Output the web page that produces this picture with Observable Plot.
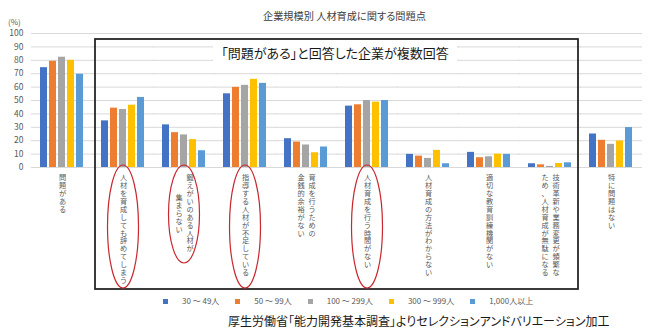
<!DOCTYPE html>
<html><head><meta charset="utf-8">
<script src="https://cdn.jsdelivr.net/npm/d3@7"></script>
<script src="https://cdn.jsdelivr.net/npm/@observablehq/plot@0.6"></script>
<style>
body{margin:0;background:#fff;font-family:"Noto Sans CJK JP","Noto Sans",sans-serif;}
#wrap{position:relative;width:650px;height:336px;overflow:hidden;background:#fff}
#wrap svg{position:absolute;left:0;top:0}
.ov{position:absolute;white-space:nowrap;line-height:1;font-feature-settings:"palt" 1}
#legend{display:flex;align-items:center;font-size:8px;color:#595959;font-feature-settings:normal}
#legend .sw{display:inline-block;width:5px;height:5px;margin-right:14px}
#legend .lb{margin-right:16px}
</style></head><body><div id="wrap"></div>
<script>
const title = "企業規模別 人材育成に関する問題点";
const unitLabel = "(%)";
const insetLabel = "「問題がある」と回答した企業が複数回答";
const caption = "厚生労働省「能力開発基本調査」よりセレクションアンドバリエーション加工";
const categories = ["問題がある","人材を育成しても辞めてしまう","鍛えがいのある人材が集まらない","指導する人材が不足している","育成を行うための金銭的余裕がない","人材育成を行う時間がない","人材育成の方法がわからない","適切な教育訓練機関がない","技術革新や業務変更が頻繁なため、人材育成が無駄になる","特に問題はない"];
const categoryLines = [["問題がある"],["人材を育成しても辞めてしまう"],["鍛えがいのある人材が","集まらない"],["指導する人材が不足している"],["育成を行うための","金銭的余裕がない"],["人材育成を行う時間がない"],["人材育成の方法がわからない"],["適切な教育訓練機関がない"],["技術革新や業務変更が頻繁な","ため、人材育成が無駄になる"],["特に問題はない"]];
const sizes = ["30 ～ 49人","50 ～ 99人","100 ～ 299人","300 ～ 999人","1,000人以上"];
const colors = ["#4472C4","#ED7D31","#A5A5A5","#FFC000","#5B9BD5"];
const s30_49   = [74.5,34.8,31.8,55.0,21.5,45.8, 9.8,11.3,2.8,25.0];
const s50_99   = [79.3,44.3,26.0,59.8,19.0,46.8, 8.5, 7.3,2.0,20.3];
const s100_299 = [82.3,43.3,24.3,61.3,16.8,50.0, 6.8, 8.0,0.8,17.3];
const s300_999 = [80.0,46.5,20.8,65.8,11.0,48.8,12.8,10.0,3.0,19.8];
const s1000    = [69.6,52.3,12.5,62.8,15.3,50.0, 2.8, 9.8,3.5,29.8];
const yTicks = [0,10,20,30,40,50,60,70,80,90,100];
const highlighted = [categories[1],categories[2],categories[3],categories[5]];
const boxedFrom = categories[1], boxedTo = categories[8];

const series = [s30_49,s50_99,s100_299,s300_999,s1000];
const rows = [];
categories.forEach((c,i)=>series.forEach((s,j)=>rows.push({cat:c,size:sizes[j],value:s[i]})));

const FONT = '"Noto Sans CJK JP","Noto Sans",sans-serif';
const FS = 7.2, LHEM = 1.1, LH = FS*LHEM;
const labelMarks = [];
categories.forEach((c,i)=>{
  const lines = categoryLines[i];
  const maxLen = d3.max(lines, l=>[...l].length);
  lines.forEach((l,k)=>{
    const dx = lines.length===1 ? 0 : (k===0 ? 5.5 : -5.5);
    const shift = (maxLen-[...l].length)/2;
    labelMarks.push(Plot.text([{cat:c,t:[...l].join("\n")}],{
      fx:"cat", text:"t", frameAnchor:"bottom", lineAnchor:"top", lineHeight:LHEM,
      fontSize:FS, fill:"#595959", dx, dy:7+shift*LH
    }));
  });
});

const plot = Plot.plot({
  width:650, height:336, marginTop:33, marginBottom:169, marginLeft:26, marginRight:4,
  style:{fontFamily:FONT, background:"transparent", color:"#595959"},
  fx:{domain:categories, paddingInner:0.25, paddingOuter:0.15, axis:null, label:null},
  x:{domain:sizes, paddingInner:0.2, paddingOuter:0, axis:null},
  y:{domain:[0,100], axis:null},
  color:{domain:sizes, range:colors},
  marks:[
    Plot.ruleY(yTicks,{stroke:"#d9d9d9", insetLeft:-8, insetRight:-8}),
    Plot.axisY(yTicks,{tickSize:0, tickPadding:16, fontSize:8.5, fill:"#595959", label:null}),
    Plot.barY(rows,{fx:"cat", x:"size", y:"value", fill:"size"}),
    ...labelMarks
  ]
});

const wrap = document.getElementById("wrap");
wrap.appendChild(plot);

// annotations using the fx scale
const fx = plot.scale("fx");
const bw = fx.bandwidth;
const svg = d3.select(plot);
const ann = svg.append("g");
const x1 = fx.apply(boxedFrom) - 5, x2 = fx.apply(boxedTo) + bw + 5;
ann.append("rect").attr("x",x1).attr("y",39).attr("width",x2-x1).attr("height",250)
  .attr("fill","none").attr("stroke","#262626").attr("stroke-width",1.8);
highlighted.forEach(c=>{
  const i = categories.indexOf(c);
  const maxLen = d3.max(categoryLines[i], l=>[...l].length);
  const top = 165, bottom = maxLen > 10 ? 288 : 263;
  ann.append("ellipse").attr("cx",fx.apply(c)+bw/2).attr("cy",(top+bottom)/2)
    .attr("rx",15.5).attr("ry",(bottom-top)/2)
    .attr("fill","none").attr("stroke","#c8282e").attr("stroke-width",1.2);
});

function ov(text, css){
  const d = document.createElement("div");
  d.className = "ov"; d.textContent = text; d.style.cssText += css;
  wrap.appendChild(d); return d;
}
ov(title, "left:263px;top:11px;font-size:10.2px;color:#404040;");
ov(unitLabel, "left:8px;top:18px;font-size:8px;color:#595959;font-feature-settings:normal;");
ov(insetLabel, "left:213px;top:42px;width:244px;height:22px;line-height:22px;background:#fff;text-align:center;font-size:13px;color:#1a1a1a;");
ov(caption, "left:228px;top:315px;font-size:12px;color:#1a1a1a;");
const lg = document.createElement("div");
lg.id = "legend"; lg.className = "ov"; lg.style.left = "163px"; lg.style.top = "297px";
sizes.forEach((s,j)=>{
  const sw = document.createElement("span"); sw.className="sw"; sw.style.background = colors[j];
  const lb = document.createElement("span"); lb.className="lb"; lb.textContent = s;
  lg.appendChild(sw); lg.appendChild(lb);
});
wrap.appendChild(lg);
</script></body></html>
